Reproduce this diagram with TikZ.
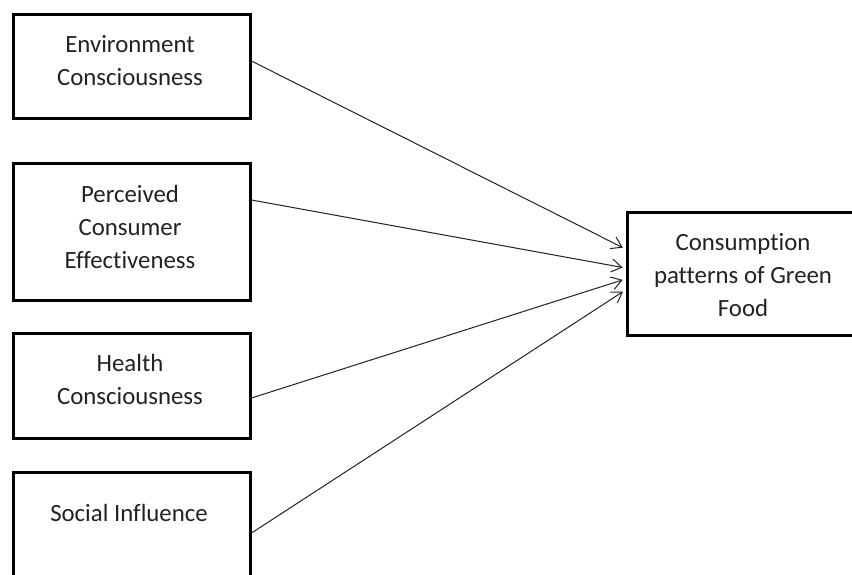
\documentclass[tikz,border=0pt]{standalone}
\usepackage{fontspec}
\setmainfont{Carlito}[Ligatures=NoCommon]
\usetikzlibrary{arrows.meta}
\definecolor{ink}{HTML}{222222}
\tikzset{
  box/.style={draw=black, line width=3pt, rectangle, inner sep=0pt, fill=white},
  lbl/.style={align=center, inner sep=0pt, text=ink, font=\fontsize{24.8pt}{33pt}\selectfont},
  link/.style={draw=ink, line width=1pt, -{Straight Barb[length=10pt, width=13pt, line width=1pt]}, shorten >=3pt}
}
\begin{document}
\begin{tikzpicture}[x=1pt, y=-1pt]
\useasboundingbox (0,0) rectangle (852,574);
\clip (0,0) rectangle (852,574);
\fill[white] (0,0) rectangle (852,574);
% boxes
\node[box, minimum width=237pt, minimum height=104pt] (b1) at (131.5,66) {};
\node[box, minimum width=237pt, minimum height=137pt] (b2) at (131.5,231.5) {};
\node[box, minimum width=237pt, minimum height=105pt] (b3) at (131.5,385.5) {};
\node[box, minimum width=237pt, minimum height=148pt] (b4) at (131.5,546) {};
\node[box, minimum width=253pt, minimum height=123pt] (t) at (753.5,273.5) {};
% labels
\node[lbl] (l1) at (130,60.5) {Environment\\Consciousness};
\node[lbl] (l2) at (130,227) {Perceived\\Consumer\\Effectiveness};
\node[lbl] (l3) at (130,379.5) {Health\\Consciousness};
\node[lbl] (l4) at (129,513) {Social Influence};
\node[lbl] (lt) at (743,275) {Consumption\\patterns of Green\\Food};
% connector end points
\coordinate (s1) at (b1.east |- 0,61);
\coordinate (s2) at (b2.east |- 0,200);
\coordinate (s3) at (b3.east |- 0,398);
\coordinate (s4) at (b4.east |- 0,533);
\coordinate (e1) at (t.west |- 0,249);
\coordinate (e2) at (t.west |- 0,268);
\coordinate (e3) at (t.west |- 0,279);
\coordinate (e4) at (t.west |- 0,290);
\draw[link] (s1) -- (e1);
\draw[link] (s2) -- (e2);
\draw[link] (s3) -- (e3);
\draw[link] (s4) -- (e4);
\end{tikzpicture}
\end{document}
